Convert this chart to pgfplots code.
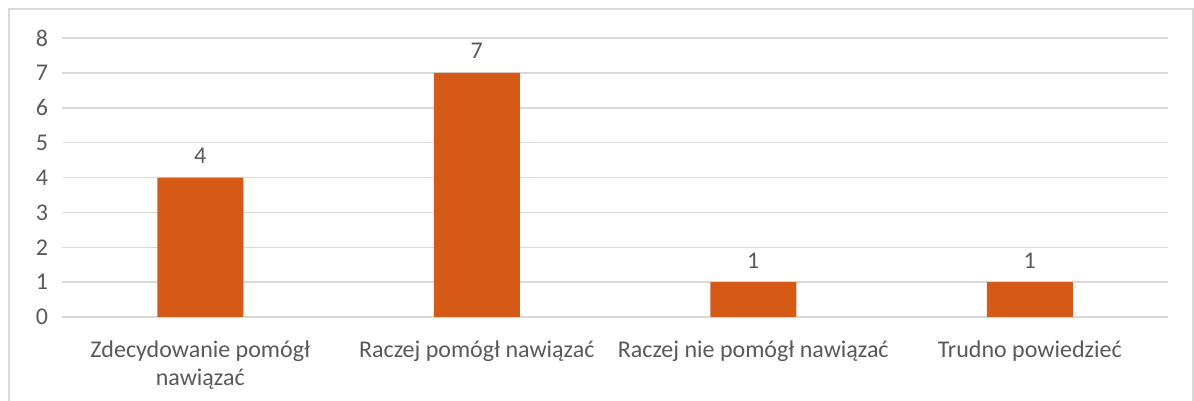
\documentclass[border=0pt]{standalone}
\usepackage{pgfplots}
\pgfplotsset{compat=1.18}
\usepackage{fontspec}
\setmainfont{Carlito}
\definecolor{barc}{HTML}{D55A17}
\definecolor{gridc}{HTML}{D9D9D9}
\definecolor{txt}{HTML}{595959}
\begin{document}
\begin{tikzpicture}[font=\fontsize{12}{14}\selectfont]
\path[use as bounding box] (0pt,0pt) rectangle (597pt,200.5pt);
\draw[gridc, line width=0.75pt] (4.5pt,-1pt) rectangle (596.5pt,196pt);
\begin{axis}[
  at={(31pt,42pt)}, anchor=south west,
  scale only axis, width=553pt, height=139.5pt,
  xmin=-0.5, xmax=3.5, ymin=0, ymax=8,
  ybar, bar width=43pt,
  axis line style={draw=none},
  major tick length=0pt,
  ytick={0,1,...,8},
  ymajorgrids, grid style={gridc, line width=0.75pt},
  xtick={0,1,2,3},
  xticklabels={{Zdecydowanie pomógł\\nawiązać},{Raczej pomógł nawiązać},{Raczej nie pomógł nawiązać},{Trudno powiedzieć}},
  xticklabel style={align=center, text=txt, font=\fontsize{12}{14}\selectfont, yshift=-8.5pt},
  yticklabel style={text=txt, font=\fontsize{12}{14}\selectfont, xshift=-3.5pt},
  /pgf/number format/assume math mode=true,
  nodes near coords,
  every node near coord/.append style={text=txt, font=\fontsize{12}{14}\selectfont, yshift=3.5pt},
  clip=false,
]
\addplot[fill=barc, draw=none] coordinates {(0,4) (1,7) (2,1) (3,1)};
\end{axis}
\end{tikzpicture}
\end{document}
